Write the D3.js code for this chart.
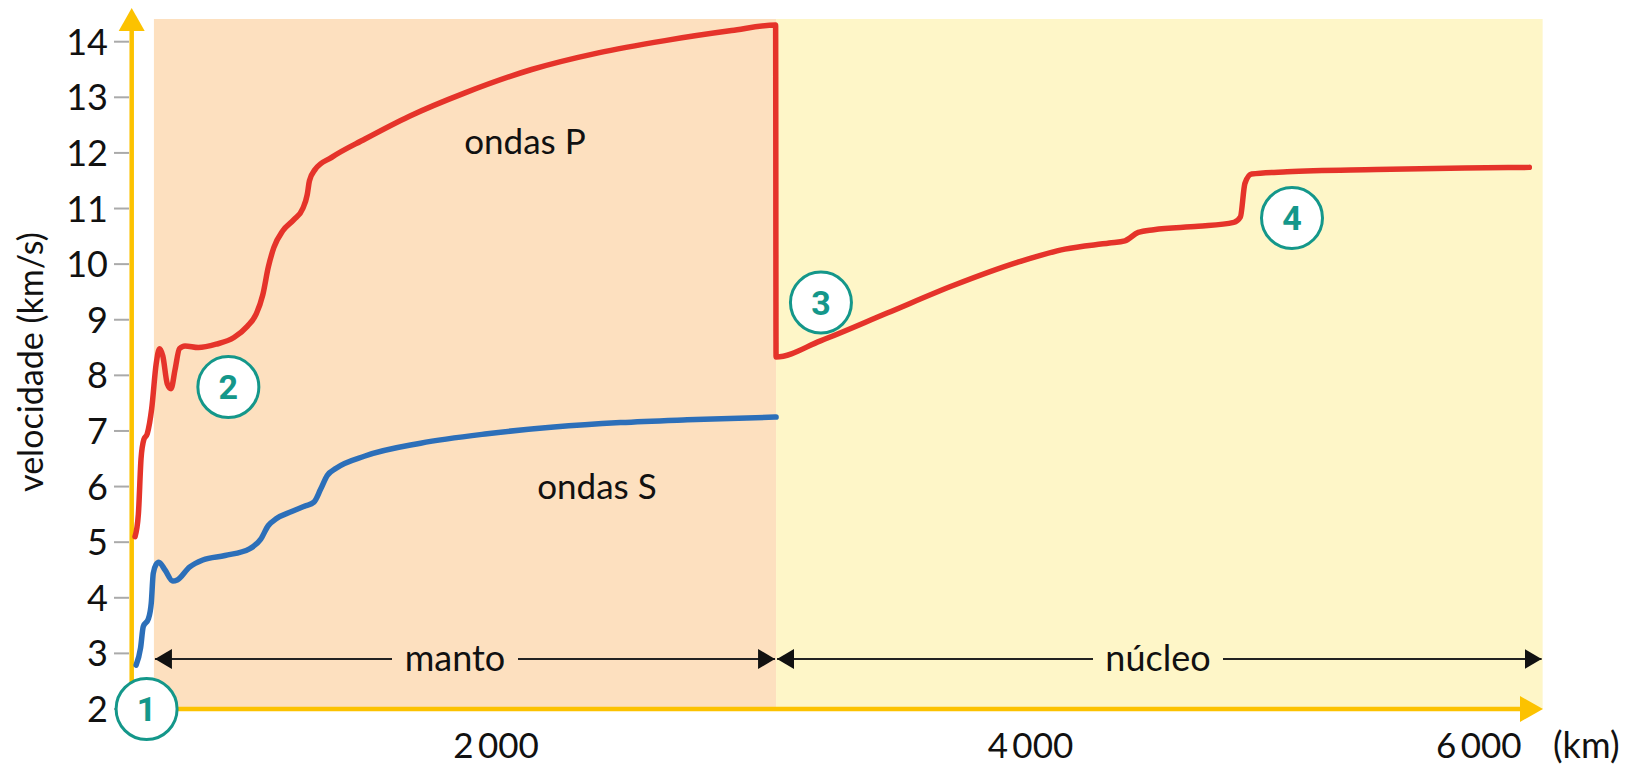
<!DOCTYPE html>
<html>
<head>
<meta charset="utf-8">
<script src="https://cdn.jsdelivr.net/npm/d3@7"></script>
<style>
  body { margin: 0; background: #fff; }
  text { font-family: Lato, "Open Sans", sans-serif; fill: #111; }
</style>
</head>
<body>
<svg id="chart" width="1642" height="771"></svg>
<script>
// profundidade (km) x velocidade (km/s)
var ondasP_manto = [
    [15, 5.1], [30, 5.5], [42, 6.5], [55, 6.85], [70, 6.95], [90, 7.4], [110, 8.2], [125, 8.48],
    [140, 8.35], [160, 7.85], [177, 7.76], [195, 8.1], [215, 8.48], [240, 8.53], [300, 8.5],
    [380, 8.56], [460, 8.68], [520, 8.88], [560, 9.1], [590, 9.45], [615, 9.95], [640, 10.3],
    [680, 10.6], [730, 10.8], [770, 11.0], [790, 11.25], [800, 11.5], [825, 11.7], [900, 11.92],
    [1050, 12.25], [1250, 12.66], [1500, 13.08], [1800, 13.5], [2100, 13.8], [2400, 14.02],
    [2700, 14.2], [2898, 14.3]
];
var ondasP_nucleo = [
    [2900, 8.33], [3100, 8.62], [3400, 9.12], [3700, 9.62], [4000, 10.05], [4200, 10.27],
    [4400, 10.38], [4470, 10.42], [4530, 10.57], [4600, 10.62], [4800, 10.68], [4960, 10.75],
    [4990, 10.85], [5010, 11.45], [5040, 11.62], [5200, 11.66], [5600, 11.7], [6000, 11.73],
    [6290, 11.74]
];
var ondasS = [
    [20, 2.79], [40, 3.1], [52, 3.48], [75, 3.62], [88, 3.9], [97, 4.44], [110, 4.6], [122, 4.64],
    [150, 4.5], [185, 4.3], [205, 4.32], [260, 4.55], [320, 4.68], [420, 4.76], [530, 4.88],
    [580, 5.05], [615, 5.3], [650, 5.42], [720, 5.55], [780, 5.65], [820, 5.72], [850, 5.95],
    [880, 6.2], [920, 6.33], [1050, 6.55], [1300, 6.78], [1600, 6.95], [1900, 7.07], [2200, 7.15],
    [2500, 7.2], [2900, 7.25]
];
var camadas = ['manto', 'núcleo'];
var camadasLimites = [[100, 2900], [2900, 6350]];
var yTicks = [2, 3, 4, 5, 6, 7, 8, 9, 10, 11, 12, 13, 14];
var xTicks = [2000, 4000, 6000];
var marcadores = [1, 2, 3, 4];
var marcadoresPos = [[67, 2.0], [435, 7.79], [3102, 9.31], [5222, 10.83]];

var svg = d3.select('#chart');

var x = d3.scaleLinear().domain([0, 6371]).range([131.7, 1547.3]);
var y = d3.scaleLinear().domain([2, 14]).range([709, 41.7]);

var laranja = '#fcc200', vermelho = '#e5332a', azul = '#2c6fb9', verde = '#14978a';

// fundo das camadas
var fundo = ['#fde0bf', '#fef6c8'];
svg.selectAll('rect.camada').data(camadasLimites).enter().append('rect')
    .attr('class', 'camada')
    .attr('x', function(d) { return x(d[0]); })
    .attr('y', 19)
    .attr('width', function(d) { return x(d[1]) - x(d[0]); })
    .attr('height', y(2) - 19)
    .attr('fill', function(d, i) { return fundo[i]; });

// setas manto / nucleo
var defs = svg.append('defs');
defs.append('marker').attr('id', 'seta').attr('viewBox', '0 0 17 20')
    .attr('refX', 17).attr('refY', 10).attr('markerWidth', 17).attr('markerHeight', 20)
    .attr('markerUnits', 'userSpaceOnUse').attr('orient', 'auto-start-reverse')
    .append('path').attr('d', 'M0,0 L17,10 L0,20 Z').attr('fill', '#111');

var yFaixa = 659;
var gaps = [[392, 518], [1093, 1223]];
camadasLimites.forEach(function(d, i) {
    var x0 = x(d[0]), x1 = x(d[1]);
    svg.append('line').attr('x1', x0 + 1).attr('x2', gaps[i][0]).attr('y1', yFaixa).attr('y2', yFaixa)
        .attr('stroke', '#222').attr('stroke-width', 2).attr('marker-start', 'url(#seta)');
    svg.append('line').attr('x1', gaps[i][1]).attr('x2', x1 - 1).attr('y1', yFaixa).attr('y2', yFaixa)
        .attr('stroke', '#222').attr('stroke-width', 2).attr('marker-end', 'url(#seta)');
    svg.append('text').attr('x', (gaps[i][0] + gaps[i][1]) / 2).attr('y', yFaixa + 12)
        .attr('text-anchor', 'middle').attr('font-size', 36).text(camadas[i]);
});

// eixo y
var gy = svg.append('g');
gy.selectAll('line.tick').data(yTicks).enter().append('line')
    .attr('x1', 114).attr('x2', 129)
    .attr('y1', function(d) { return y(d); }).attr('y2', function(d) { return y(d); })
    .attr('stroke', '#aaa').attr('stroke-width', 2);
gy.selectAll('text').data(yTicks).enter().append('text')
    .attr('x', 108).attr('y', function(d) { return y(d) + 13; })
    .attr('text-anchor', 'end').attr('font-size', 36).text(function(d) { return d; });

svg.append('text')
    .attr('transform', 'translate(' + 43 + ',' + 362 + ') rotate(-90)')
    .attr('text-anchor', 'middle').attr('font-size', 34).text('velocidade (km/s)');

// eixos laranja
svg.append('line').attr('x1', x(0)).attr('x2', x(0)).attr('y1', y(2) + 2).attr('y2', 28)
    .attr('stroke', laranja).attr('stroke-width', 4.5);
svg.append('path').attr('d', 'M' + (x(0) - 13) + ',31 L' + x(0) + ',8 L' + (x(0) + 13) + ',31 Z').attr('fill', laranja);
svg.append('line').attr('x1', x(0)).attr('x2', 1522).attr('y1', y(2)).attr('y2', y(2))
    .attr('stroke', laranja).attr('stroke-width', 4.5);
svg.append('path').attr('d', 'M1520,' + (y(2) - 13) + ' L1543,' + y(2) + ' L1520,' + (y(2) + 13) + ' Z').attr('fill', laranja);

// rotulos eixo x
svg.selectAll('text.xt').data(xTicks).enter().append('text')
    .attr('class', 'xt')
    .attr('x', function(d) { return x(d) + (d === 2000 ? -80 : d === 4000 ? 10 : 14); })
    .attr('y', 758).attr('text-anchor', 'middle').attr('font-size', 35)
    .text(function(d) { return d3.format(',')(d).replace(',', '\u2009'); });
svg.append('text').attr('x', 1553).attr('y', 758).attr('font-size', 36).text('(km)');

// curvas
var linha = d3.line()
    .x(function(d) { return x(d[0]); })
    .y(function(d) { return y(d[1]); })
    .curve(d3.curveMonotoneX);

svg.append('path').datum(ondasP_manto.concat(ondasP_nucleo))
    .attr('d', linha).attr('fill', 'none').attr('stroke', vermelho)
    .attr('stroke-width', 5.5).attr('stroke-linejoin', 'round').attr('stroke-linecap', 'round');
svg.append('path').datum(ondasS)
    .attr('d', linha).attr('fill', 'none').attr('stroke', azul)
    .attr('stroke-width', 5.5).attr('stroke-linecap', 'round');

svg.append('text').attr('x', x(1770)).attr('y', y(11.98)).attr('text-anchor', 'middle')
    .attr('font-size', 35).text('ondas P');
svg.append('text').attr('x', x(2094)).attr('y', y(5.77)).attr('text-anchor', 'middle')
    .attr('font-size', 35).text('ondas S');

// marcadores numerados
var m = svg.selectAll('g.marc').data(marcadores).enter().append('g')
    .attr('transform', function(d, i) {
        return 'translate(' + x(marcadoresPos[i][0]) + ',' + y(marcadoresPos[i][1]) + ')';
    });
m.append('circle').attr('r', 30.5).attr('fill', '#fff').attr('stroke', verde).attr('stroke-width', 3);
m.append('text').attr('y', 12).attr('text-anchor', 'middle').attr('font-size', 34)
    .attr('font-weight', 'bold').style('fill', verde)
    .style('font-family', 'Roboto, sans-serif').text(function(d) { return d; });
</script>
</body>
</html>
